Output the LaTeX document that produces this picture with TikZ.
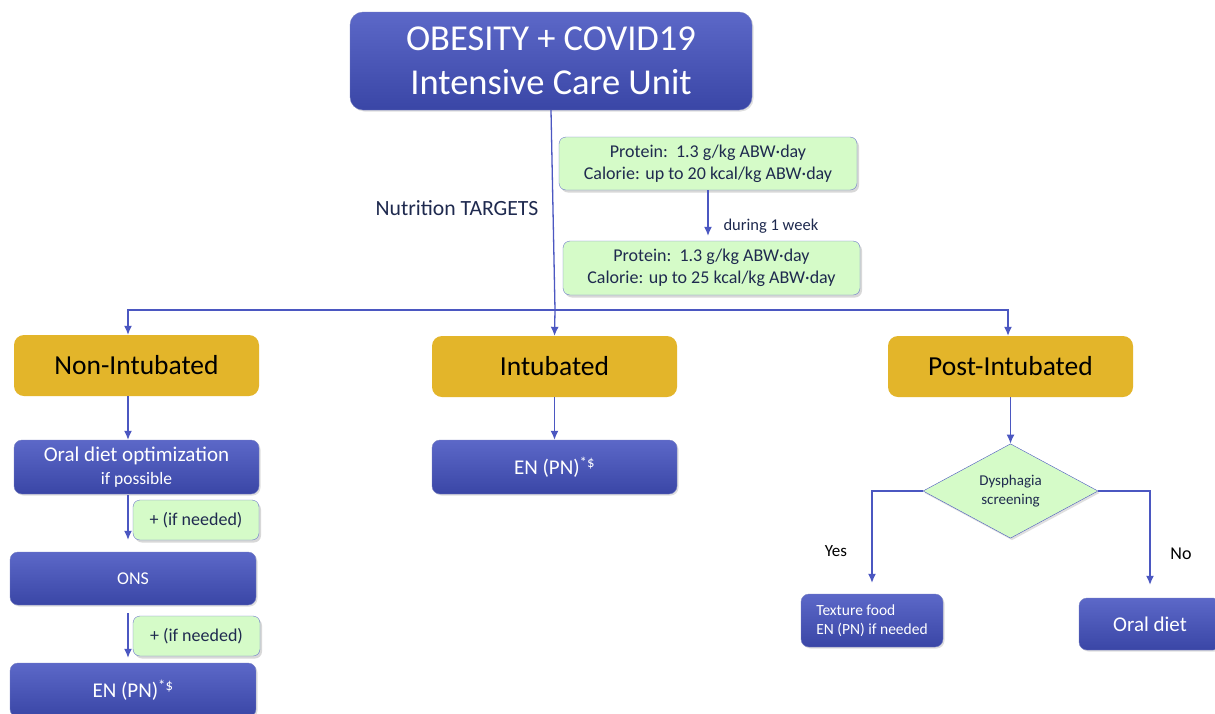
\documentclass[tikz,border=0pt]{standalone}
\usepackage{fontspec}
\setmainfont{Carlito}
\usepackage{xcolor}
\usepackage{tikz}
\usetikzlibrary{calc, arrows.meta, positioning, shapes.geometric, shadows}

\definecolor{boxtop}{HTML}{5C68C8}
\definecolor{boxbot}{HTML}{3A46A6}
\definecolor{lineblue}{HTML}{4B57C1}
\definecolor{phasecol}{HTML}{E3B52A}
\definecolor{targetcol}{HTML}{D5FBC8}
\definecolor{navy}{HTML}{1F2A4F}

\begin{document}
\begin{tikzpicture}[x=1pt, y=-1pt, >=Latex]
		\tikzstyle{action} = [rectangle, rounded corners=8pt, top color=boxtop, bottom color=boxbot, draw=boxbot!70, text=white, align=center, inner sep=0pt, drop shadow={shadow xshift=1.5pt, shadow yshift=-1.5pt, opacity=0.25}]
		\tikzstyle{title} = [action, rounded corners=13pt, minimum width=402pt, minimum height=98pt, font=\fontsize{36.5}{44}\selectfont]
		\tikzstyle{phase} = [rectangle, rounded corners=10pt, fill=phasecol, text=black, minimum width=245pt, minimum height=61pt, font=\fontsize{27.5}{30}\selectfont]
		\tikzstyle{target} = [rectangle, rounded corners=7pt, fill=targetcol, draw=lineblue!80, text=navy, align=center, inner sep=0pt, font=\fontsize{18}{22}\selectfont, drop shadow={shadow xshift=2pt, shadow yshift=-2.5pt, opacity=0.3}]
		\tikzstyle{decision} = [diamond, fill=targetcol, draw=lineblue, text=navy, align=center, inner sep=0pt, minimum width=175pt, minimum height=88pt, font=\fontsize{15}{19}\selectfont, drop shadow={shadow xshift=1.5pt, shadow yshift=-2pt, opacity=0.25}]
		\tikzstyle{line} = [draw=lineblue, line width=1.3pt]
		\tikzstyle{arrow} = [line, ->, >={Latex[length=9pt, width=8pt]}]
		
		\clip (0,0) rectangle (1215,713);
		\fill[white] (0,0) rectangle (1215,713);
		
		\coordinate (colA) at (128,0);
		\coordinate (hub) at (555,310);
		
		\node[title]	at (551, 61)	(top)	{OBESITY + COVID19\\Intensive Care Unit};
		
		\node[target, minimum width=298pt, minimum height=53pt]	at (708, 163.5)	(tgA)	{Protein:\ \ 1.3 g/kg ABW·day\\Calorie: up to 20 kcal/kg ABW·day};
		\node[target, minimum width=297pt, minimum height=54pt]	at (711.5, 268)	(tgB)	{Protein:\ \ 1.3 g/kg ABW·day\\Calorie: up to 25 kcal/kg ABW·day};
		\node[text=navy, font=\fontsize{21.7}{24}\selectfont]	at (457, 208)	(ntar)	{Nutrition TARGETS};
		\node[text=navy, anchor=west, font=\fontsize{16.5}{20}\selectfont]	at (720, 226)	(week)	{during 1 week};
		
		\node[phase]	at (136.5, 365.5)	(nonint)	{Non-Intubated};
		\node[phase]	at (554.5, 366.5)	(intub)		{Intubated};
		\node[phase]	at (1010.5, 366.5)	(postint)	{Post-Intubated};
		
		\node[action, minimum width=245pt, minimum height=54pt, font=\fontsize{21}{23}\selectfont]	at (136.5, 467)	(oral)	{Oral diet optimization\\{\fontsize{17.5}{23}\selectfont if possible}};
		\node[target, minimum width=126pt, minimum height=40pt]	at (196, 520)	(needA)	{+ (if needed)};
		\node[action, minimum width=246pt, minimum height=53pt, font=\fontsize{18}{20}\selectfont]	at (133, 578.5)	(ons)	{ONS};
		\node[target, minimum width=127pt, minimum height=40pt]	at (196.5, 636)	(needB)	{+ (if needed)};
		\node[action, minimum width=246pt, minimum height=54pt, font=\fontsize{21}{24}\selectfont]	at (133, 690)	(enA)	{EN (PN)\textsuperscript{*\$}};
		
		\node[action, minimum width=245pt, minimum height=54pt, font=\fontsize{21}{24}\selectfont]	at (554.5, 467)	(enB)	{EN (PN)\textsuperscript{*\$}};
		
		\node[decision]	at (1010.5, 491)	(dys)	{Dysphagia\\screening};
		\node[action, minimum width=142pt, minimum height=53pt, align=left, font=\fontsize{15.5}{19}\selectfont]	at (872, 620.5)	(texture)	{Texture food\\EN (PN) if needed};
		\node[action, minimum width=142pt, minimum height=52pt, font=\fontsize{21}{24}\selectfont]	at (1150, 624)	(oraldiet)	{Oral diet};
		\node[font=\fontsize{17}{20}\selectfont]	at (836, 551)	(yes)	{Yes};
		\node[font=\fontsize{18}{20}\selectfont]	at (1181, 554)	(no)	{No};
		
		\draw [line] (top.south) -- (hub);
		\draw [arrow] (hub) -| (colA |- nonint.north);
		\draw [arrow] (hub) -- (intub.north);
		\draw [arrow] (hub) -| (postint.north -| 1008,0);
		\draw [arrow, shorten >=5pt] (tgA.south) -- (tgA.south |- tgB.north);
		
		\draw [arrow] (colA |- nonint.south) -- (colA |- oral.north);
		\draw [arrow, shorten <=1pt, shorten >=12pt] (colA |- oral.south) -- (colA |- ons.north);
		\draw [arrow, shorten <=8pt, shorten >=5pt] (colA |- ons.south) -- (colA |- enA.north);
		\draw [arrow] (intub.south) -- (enB.north);
		
		\draw [arrow] (postint.south) -- (dys.north);
		\draw [arrow, shorten >=11pt] (dys.west) -| (texture.north);
		\draw [arrow, shorten >=13pt] (dys.east) -| (oraldiet.north);
	\end{tikzpicture}
\end{document}
